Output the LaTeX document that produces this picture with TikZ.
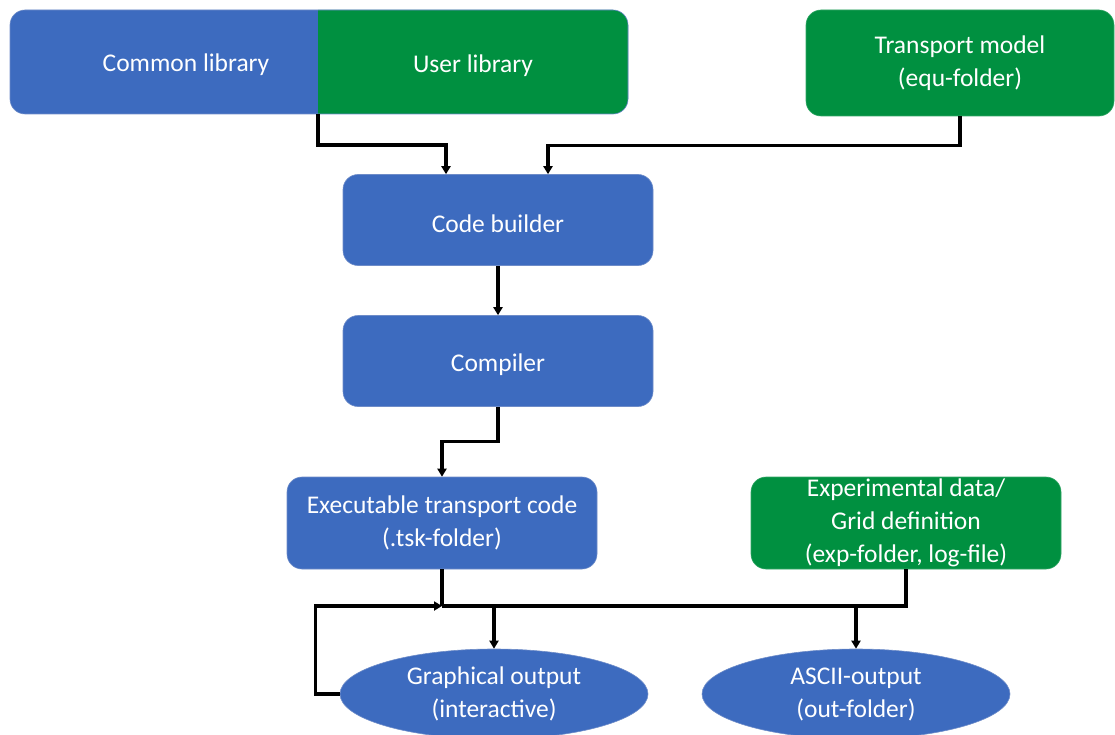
\documentclass[tikz,border=0pt]{standalone}
\usepackage{fontspec}
\setmainfont{Carlito}
\usetikzlibrary{arrows.meta,shapes.geometric,calc}
\definecolor{myblue}{RGB}{61,107,191}
\definecolor{mygreen}{RGB}{0,144,64}
\definecolor{myline}{RGB}{110,140,200}
\begin{document}
\begin{tikzpicture}[x=1pt,y=-1pt,
  every node/.style={font=\fontsize{25.5}{33}\selectfont, text=white, align=center,
    execute at begin node={\rule{0pt}{26pt}}},
  bluebox/.style={rectangle, rounded corners=15pt, fill=myblue, draw=myline, line width=0.6pt, minimum width=310pt, minimum height=91pt, inner sep=0pt},
  greenbox/.style={bluebox, fill=mygreen, draw=mygreen!80!white},
  outell/.style={ellipse, fill=myblue, draw=myline, line width=0.6pt, minimum width=308pt, minimum height=90pt, inner sep=0pt},
  arr/.style={line width=3.2pt, -{Triangle[width=9pt,length=8pt]}},
  con/.style={line width=3.2pt}
]
\useasboundingbox (0,0) rectangle (1115,735);
% combined library box
\fill[myblue, rounded corners=15pt] (10,10) rectangle (628,114);
\begin{scope}
  \clip (318,0) rectangle (640,130);
  \fill[mygreen, rounded corners=15pt] (290,10) rectangle (628,114);
\end{scope}
\draw[myline, line width=0.6pt, rounded corners=15pt] (10,10) rectangle (628,114);
\node (common) at (186,61) {Common library};
\node (user) at (473,62) {User library};
\coordinate (split) at (318,114);

\node[greenbox, minimum width=308pt, minimum height=106pt] (transport) at (960,63) {Transport model\\(equ-folder)};
\node[bluebox] (builder) at (498,220) {Code builder};
\node[bluebox] (compiler) at (498,361) {Compiler};
\node[bluebox, minimum height=92pt] (exec) at (442,523) {Executable transport code\\(.tsk-folder)};
\node[greenbox, minimum height=92pt] (exper) at (906,523) {Experimental data/\\Grid definition\\(exp-folder, log-file)};
\node[outell] (graph) at (494,694) {Graphical output\\(interactive)};
\node[outell] (ascii) at (856,694) {ASCII-output\\(out-folder)};

\coordinate (j) at (442,606);

\draw[arr] (split) -- ++(0,31) -| ([xshift=-52pt]builder.north);
\draw[arr] (transport.south) -- ($(transport.south)+(0,29)$) -| ([xshift=50pt]builder.north);
\draw[arr] (builder.south) -- (compiler.south |- compiler.north);
\draw[arr] (compiler.south) -- ++(0,35) -| (exec.north);
\draw[con] (exec.south) -- (j);
\draw[con] (exper.south) |- (j);
\draw[arr] (graph.north |- j) -- (graph.north);
\draw[arr] (ascii.north |- j) -- (ascii.north);
\draw[arr] (graph.west) -- ++(-24,0) |- (j);
\end{tikzpicture}
\end{document}
